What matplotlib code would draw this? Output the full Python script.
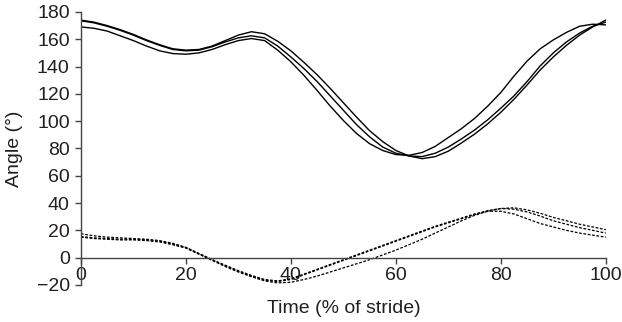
"""Joint angle over the stride cycle: three solid and three dashed trials."""

import matplotlib
matplotlib.use("Agg")
import matplotlib.pyplot as plt

plt.rcParams["font.family"] = ["Liberation Sans", "DejaVu Sans"]

TEXT_COLOR = "#231f20"
AXIS_COLOR = "#444444"

# % of stride, every 2.5 %
stride = [i * 2.5 for i in range(41)]

# upper joint (solid)
solid_a = [169, 168, 166, 162.5, 159, 155, 151.5, 149.5, 149, 150,
           152.5, 156, 159, 160.5, 159, 152, 143.5, 133.5, 122.5, 111,
           100.5, 91, 83.5, 78.5, 75.5, 75, 77, 81.5, 88, 94.5,
           102, 111, 121, 133, 144, 153, 159.5, 165, 169.5, 171, 170.5]
solid_b = [173.5, 172, 169.5, 166.5, 163, 159, 155.5, 152.5, 151.5, 152,
           154.5, 158, 161, 162.5, 161, 155, 147, 138.5, 129, 118.5,
           108, 97.5, 88.5, 81, 76.5, 74.5, 74, 76.5, 81, 87,
           93.5, 101, 109.5, 118.5, 129, 140.5, 150, 158, 164.5, 169.5, 172.5]
solid_c = [174, 172.5, 170, 167, 163.5, 159.5, 156, 153, 152, 152.5,
           155, 159, 163, 165.5, 164, 158.5, 151.5, 143, 134, 124,
           113.5, 103, 93, 85, 78.5, 74.5, 72.5, 74, 78, 84,
           90.5, 98, 106.5, 116, 126.5, 137.5, 147, 155.5, 163, 169, 174]

# lower joint (dashed)
dashed_a = [17.5, 16, 15, 14.5, 14, 13.5, 12.5, 10.5, 7.5, 3,
            -1.5, -5.5, -9.5, -13, -16, -17, -15.5, -12, -8.5, -5,
            -1.5, 2, 5.5, 9, 12.5, 16, 19.5, 23, 26, 29,
            32, 34, 34, 32, 28.5, 25, 22.5, 20, 18, 16.5, 15]
dashed_b = [15.5, 14.5, 14, 13.5, 13.5, 13, 12, 10, 7.5, 3,
            -1.5, -6, -10, -13.5, -16.5, -17.5, -16, -12.5, -9, -5.5,
            -2, 1.5, 5, 8.5, 12, 15.5, 19, 22.5, 25.5, 28.5,
            31.5, 34.5, 36, 35.5, 33.5, 30.5, 27, 24.5, 22, 20, 18]
dashed_c = [15, 14, 13.5, 13, 13, 12.5, 11.5, 9.5, 7, 2.5,
            -2, -6.5, -10.5, -14, -17, -18.5, -18, -16, -13.5, -10.5,
            -7.5, -4.5, -1.5, 2, 5.5, 9.5, 13.5, 18, 22.5, 27,
            31, 34, 36, 36.5, 35, 32.5, 29.5, 27, 24.5, 22.5, 20.5]

x_ticks = [0, 20, 40, 60, 80, 100]
y_ticks = [-20, 0, 20, 40, 60, 80, 100, 120, 140, 160, 180]


fig = plt.figure(figsize=(6.22, 3.22), dpi=100)
ax = fig.add_axes([0.130, 0.115, 0.844, 0.848])

for series in (solid_a, solid_b, solid_c):
    ax.plot(stride, series, color="black", lw=1.0, solid_joinstyle="round")

for series in (dashed_a, dashed_b, dashed_c):
    ax.plot(stride, series, color="black", lw=0.9, linestyle=(0, (2.2, 1.3)))

ax.set_xlim(0, 100)
ax.set_ylim(-20, 180)
ax.set_xticks(x_ticks)
ax.set_yticks(y_ticks)
ax.set_yticklabels(["\u221220" if t < 0 else str(t) for t in y_ticks])

# x axis drawn through y = 0
ax.spines["bottom"].set_position(("data", 0))
ax.spines["top"].set_visible(False)
ax.spines["right"].set_visible(False)
for side in ("left", "bottom"):
    ax.spines[side].set_color(AXIS_COLOR)
    ax.spines[side].set_linewidth(1.0)

ax.tick_params(axis="both", direction="out", length=4, width=1.0,
               color=AXIS_COLOR, labelsize=14, labelcolor=TEXT_COLOR)
ax.tick_params(axis="x", pad=3)
ax.tick_params(axis="y", pad=4)

ax.set_xlabel("Time (% of stride)", fontsize=14, color=TEXT_COLOR)
ax.set_ylabel("Angle (\u00b0)", fontsize=14, color=TEXT_COLOR)
ax.xaxis.set_label_coords(0.5, -0.055)
ax.yaxis.set_label_coords(-0.11, 0.5)

fig.savefig("out.png", dpi=100)
